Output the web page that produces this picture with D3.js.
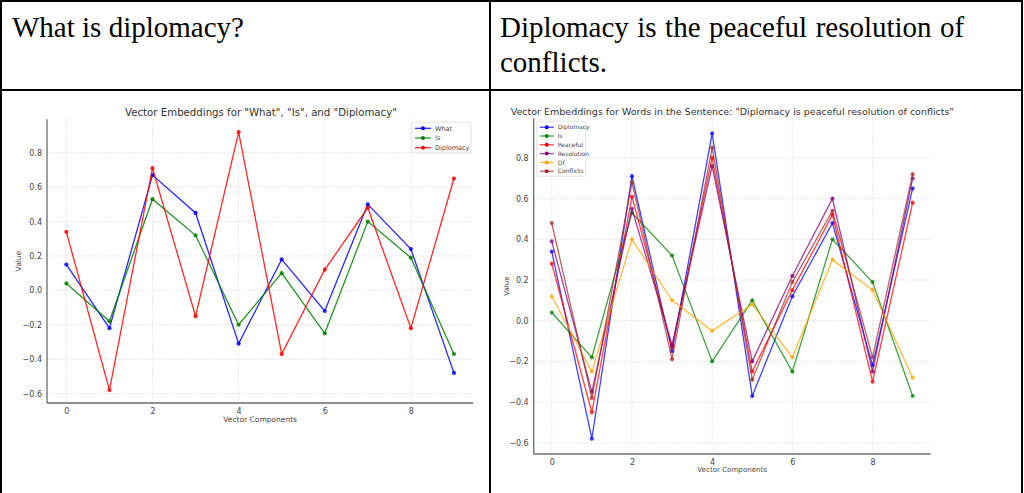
<!DOCTYPE html>
<html>
<head>
<meta charset="utf-8">
<script src="https://cdn.jsdelivr.net/npm/d3@7"></script>
<style>
  html, body { margin: 0; padding: 0; background: #fff; }
  svg { display: block; }
</style>
</head>
<body>
<svg id="root" width="1024" height="493"></svg>
<script>
// ---------- DATA ----------
const components = [0, 1, 2, 3, 4, 5, 6, 7, 8, 9];
const xTickValues = [0, 2, 4, 6, 8];
const yTickValues = [-0.6, -0.4, -0.2, 0.0, 0.2, 0.4, 0.6, 0.8];

const headerLeft = ["What is diplomacy?"];
const headerRight = ["Diplomacy is the peaceful resolution of", "conflicts."];

// Left chart
const leftTitle = 'Vector Embeddings for "What", "Is", and "Diplomacy"';
const leftNames = ["What", "Is", "Diplomacy"];
const leftWhat      = [0.15, -0.22, 0.67, 0.45, -0.31, 0.18, -0.12, 0.50, 0.24, -0.48];
const leftIs        = [0.04, -0.18, 0.53, 0.32, -0.20, 0.10, -0.25, 0.40, 0.19, -0.37];
const leftDiplomacy = [0.34, -0.58, 0.71, -0.15, 0.92, -0.37, 0.12, 0.48, -0.22, 0.65];

// Right chart
const rightTitle = 'Vector Embeddings for Words in the Sentence: "Diplomacy is peaceful resolution of conflicts"';
const rightNames = ["Diplomacy", "Is", "Peaceful", "Resolution", "Of", "Conflicts"];
const rightDiplomacy  = [0.34, -0.58, 0.71, -0.15, 0.92, -0.37, 0.12, 0.48, -0.22, 0.65];
const rightIs         = [0.04, -0.18, 0.53, 0.32, -0.20, 0.10, -0.25, 0.40, 0.19, -0.37];
const rightPeaceful   = [0.28, -0.45, 0.61, -0.13, 0.80, -0.25, 0.15, 0.52, -0.30, 0.58];
const rightResolution = [0.39, -0.35, 0.55, -0.12, 0.76, -0.20, 0.22, 0.60, -0.25, 0.70];
const rightOf         = [0.12, -0.25, 0.40, 0.10, -0.05, 0.08, -0.18, 0.30, 0.15, -0.28];
const rightConflicts  = [0.48, -0.38, 0.68, -0.19, 0.85, -0.29, 0.19, 0.54, -0.18, 0.72];

const xLabel = "Vector Components";
const yLabel = "Value";

// ---------- DRAW ----------
const svg = d3.select("#root");
const fmt = d3.format(".1f");

// table borders
const borderColor = "#000";
const tableLines = [
  [0, 1, 1023, 1],      // top
  [1, 0, 1, 493],       // left
  [1022, 0, 1022, 493], // right
  [490, 0, 490, 493],   // middle divider
  [0, 90, 1023, 90]     // header divider
];
svg.selectAll("line.tbl").data(tableLines).join("line")
  .attr("class", "tbl")
  .attr("x1", d => d[0]).attr("y1", d => d[1])
  .attr("x2", d => d[2]).attr("y2", d => d[3])
  .attr("stroke", borderColor)
  .attr("stroke-width", 2);

// header text
function header(lines, x, ws) {
  svg.append("g").selectAll("text").data(lines).join("text")
    .attr("x", x)
    .attr("y", (d, i) => 37 + i * 35)
    .attr("font-family", "'Liberation Serif', 'Times New Roman', serif")
    .attr("font-size", 29)
    .attr("word-spacing", (d, i) => (i === 0 ? ws : 0))
    .attr("fill", "#000")
    .text(d => d);
}
header(headerLeft, 12, 0);
header(headerRight, 500, 1.2);

function drawChart(cfg) {
  const g = svg.append("g");
  const x = d3.scaleLinear().domain([-0.45, 9.45]).range([cfg.x0, cfg.x1]);
  const y = d3.scaleLinear().domain([-0.655, 0.995]).range([cfg.y1, cfg.y0]);

  // grid
  g.append("g").selectAll("line").data(xTickValues).join("line")
    .attr("x1", d => x(d)).attr("x2", d => x(d))
    .attr("y1", cfg.y0).attr("y2", cfg.y1)
    .attr("stroke", "#d9d9d9").attr("stroke-width", 0.8)
    .attr("stroke-dasharray", "1.5,1.5");
  g.append("g").selectAll("line").data(yTickValues).join("line")
    .attr("x1", cfg.x0).attr("x2", cfg.x1)
    .attr("y1", d => y(d)).attr("y2", d => y(d))
    .attr("stroke", "#d9d9d9").attr("stroke-width", 0.8)
    .attr("stroke-dasharray", "1.5,1.5");

  // axes
  const xAxis = g.append("g").attr("transform", `translate(0,${cfg.y1})`)
    .call(d3.axisBottom(x).tickValues(xTickValues).tickFormat(d3.format("d")).tickSize(0).tickPadding(cfg.tickPadX));
  const yAxis = g.append("g").attr("transform", `translate(${cfg.x0},0)`)
    .call(d3.axisLeft(y).tickValues(yTickValues).tickFormat(fmt).tickSize(0).tickPadding(5));
  [xAxis, yAxis].forEach(a => {
    a.select(".domain").attr("stroke", "#6b6b6b").attr("stroke-width", 1.3);
    a.selectAll("text").attr("font-family", "'DejaVu Sans', sans-serif")
      .attr("font-size", cfg.tickFont).attr("fill", "#444");
  });
  xAxis.select(".domain").attr("d", `M${cfg.x0},0H${cfg.x1}`);
  yAxis.select(".domain").attr("d", `M0,${cfg.y0}V${cfg.y1}`);

  // title
  g.append("text").attr("x", cfg.titleX).attr("y", cfg.titleY)
    .attr("text-anchor", "middle")
    .attr("font-family", "'DejaVu Sans', sans-serif")
    .attr("font-size", cfg.titleFont).attr("fill", "#333")
    .text(cfg.title);

  // axis labels
  g.append("text").attr("x", (cfg.x0 + cfg.x1) / 2).attr("y", cfg.xLabelY)
    .attr("text-anchor", "middle")
    .attr("font-family", "'DejaVu Sans', sans-serif")
    .attr("font-size", cfg.labelFont).attr("fill", "#444")
    .text(xLabel);
  g.append("text")
    .attr("transform", `translate(${cfg.yLabelX},${(cfg.y0 + cfg.y1) / 2}) rotate(-90)`)
    .attr("text-anchor", "middle")
    .attr("font-family", "'DejaVu Sans', sans-serif")
    .attr("font-size", cfg.labelFont).attr("fill", "#444")
    .text(yLabel);

  // series
  const line = d3.line().x((d, i) => x(components[i])).y(d => y(d));
  cfg.series.forEach(s => {
    const sg = g.append("g");
    sg.append("path").datum(s.values)
      .attr("d", line).attr("fill", "none")
      .attr("stroke", s.color).attr("stroke-width", 1.3)
      .attr("stroke-opacity", cfg.alpha);
    sg.selectAll("circle").data(s.values).join("circle")
      .attr("cx", (d, i) => x(components[i])).attr("cy", d => y(d))
      .attr("r", 2.1).attr("fill", s.color).attr("fill-opacity", cfg.alpha);
  });

  // legend
  const L = cfg.legend;
  const lg = g.append("g");
  lg.append("rect").attr("x", L.x).attr("y", L.y).attr("width", L.w).attr("height", L.h)
    .attr("rx", 2).attr("fill", "#fff").attr("fill-opacity", 0.85)
    .attr("stroke", "#dcdcdc").attr("stroke-width", 0.8);
  const items = lg.selectAll("g.item").data(cfg.series).join("g").attr("class", "item")
    .attr("transform", (d, i) => `translate(${L.x + 3},${L.y + L.first + i * L.step})`);
  items.append("line").attr("x1", 0).attr("x2", L.lineW).attr("y1", 0).attr("y2", 0)
    .attr("stroke", d => d.color).attr("stroke-width", 1.3).attr("stroke-opacity", cfg.alpha);
  items.append("circle").attr("cx", L.lineW / 2).attr("cy", 0).attr("r", 2)
    .attr("fill", d => d.color);
  items.append("text").attr("x", L.lineW + 4).attr("y", 0).attr("dy", "0.35em")
    .attr("font-family", "'DejaVu Sans', sans-serif")
    .attr("font-size", L.font).attr("fill", "#444")
    .text(d => d.name);
}

drawChart({
  x0: 47, x1: 473.3, y0: 119.2, y1: 403,
  title: leftTitle, titleX: 261, titleY: 115.5, titleFont: 10.2,
  tickFont: 8, tickPadX: 5, labelFont: 7.5, xLabelY: 421.5, yLabelX: 21,
  alpha: 0.85,
  series: [
    { name: leftNames[0], values: leftWhat, color: "#0000ff" },
    { name: leftNames[1], values: leftIs, color: "#008000" },
    { name: leftNames[2], values: leftDiplomacy, color: "#ff0000" }
  ],
  legend: { x: 412, y: 122.3, w: 59, h: 30.5, first: 6, step: 9.7, lineW: 16, font: 6.5 }
});

drawChart({
  x0: 533.7, x1: 930.7, y0: 118.2, y1: 454,
  title: rightTitle, titleX: 732.3, titleY: 115, titleFont: 9.5,
  tickFont: 8, tickPadX: 5, labelFont: 7.1, xLabelY: 472, yLabelX: 509,
  alpha: 0.75,
  series: [
    { name: rightNames[0], values: rightDiplomacy, color: "#0000ff" },
    { name: rightNames[1], values: rightIs, color: "#008000" },
    { name: rightNames[2], values: rightPeaceful, color: "#ff0000" },
    { name: rightNames[3], values: rightResolution, color: "#800080" },
    { name: rightNames[4], values: rightOf, color: "#ffa500" },
    { name: rightNames[5], values: rightConflicts, color: "#a52a2a" }
  ],
  legend: { x: 536.7, y: 121.7, w: 49, h: 54.5, first: 5.5, step: 8.8, lineW: 14, font: 6 }
});
</script>
</body>
</html>
